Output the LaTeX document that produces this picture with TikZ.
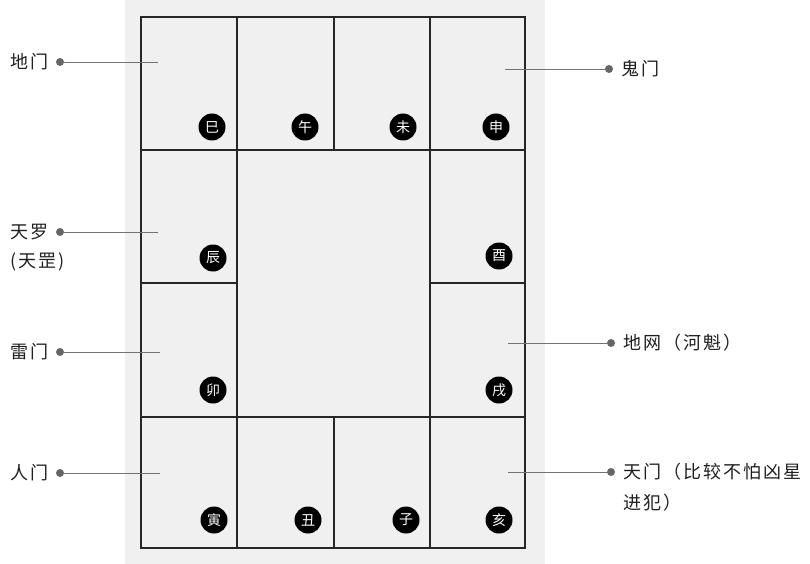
\documentclass[tikz,border=0pt]{standalone}
\usepackage{fontspec}
\setmainfont{Noto Sans CJK SC}
\newfontfamily\cjklabel[LetterSpace=11]{Noto Sans CJK SC}
\begin{document}
\begin{tikzpicture}[x=1pt,y=-1pt,
  gridline/.style={line width=1.6pt, black!85},
  zhi/.style={circle, fill=black, text=white, minimum size=27pt, inner sep=0pt,
    font=\fontsize{14}{14}\selectfont},
  lbl/.style={inner sep=0pt, text=black!88, font=\cjklabel\fontsize{18}{18}\selectfont},
  pin/.style={circle, fill=black!60, minimum size=8pt, inner sep=0pt},
  conn/.style={black!55, line width=0.9pt}]
\useasboundingbox (0,0) rectangle (810,564);
% paper background
\fill[black!6] (125,0) rectangle (545,564);
% grid
\draw[gridline] (141,17) rectangle (525,548);
\draw[gridline] (237,17) -- (237,548);
\draw[gridline] (430,17) -- (430,548);
\draw[gridline] (334,17) -- (334,150);
\draw[gridline] (334,417) -- (334,548);
\draw[gridline] (141,150) -- (525,150);
\draw[gridline] (141,417) -- (525,417);
\draw[gridline] (141,283) -- (237,283);
\draw[gridline] (430,283) -- (525,283);
% earthly branches
\node[zhi] (si)   at (212,127) {巳};
\node[zhi] (wu)   at (305,127) {午};
\node[zhi] (wei)  at (403,127) {未};
\node[zhi] (shen) at (496,127) {申};
\node[zhi] (chen) at (213,258) {辰};
\node[zhi] (you)  at (499,256) {酉};
\node[zhi] (mao)  at (213,390) {卯};
\node[zhi] (xu)   at (499,390) {戌};
\node[zhi] (yin)  at (214,520) {寅};
\node[zhi] (chou) at (308,520) {丑};
\node[zhi] (zi)   at (406,520) {子};
\node[zhi] (hai)  at (499,520) {亥};
% connector ends inside cells
\coordinate (eDimen) at (158,62);
\coordinate (eTianluo) at (158,232);
\coordinate (eLeimen) at (160,352);
\coordinate (eRenmen) at (160,473);
\coordinate (eGuimen) at (505,69);
\coordinate (eDiwang) at (508,343);
\coordinate (eTianmen) at (508,472);
% left labels
\node[lbl, anchor=west] (tDimen) at (10,62) {地门};
\node[pin] (pDimen) at (60,62) {};
\node[lbl, anchor=west] (tTianluo) at (10,232) {天罗};
\node[lbl, anchor=west] (tTiangang) at (10,262) {(天罡)};
\node[pin] (pTianluo) at (60,232) {};
\node[lbl, anchor=west] (tLeimen) at (10,352) {雷门};
\node[pin] (pLeimen) at (60,352) {};
\node[lbl, anchor=west] (tRenmen) at (10,473) {人门};
\node[pin] (pRenmen) at (60,473) {};
% right labels
\node[pin] (pGuimen) at (609,69) {};
\node[lbl, anchor=west] (tGuimen) at (621,69) {鬼门};
\node[pin] (pDiwang) at (611,343) {};
\node[lbl, anchor=west] (tDiwang) at (623,343) {地网（河魁）};
\node[pin] (pTianmen) at (611,472) {};
\node[lbl, anchor=west] (tTianmen) at (623,472) {天门（比较不怕凶星};
\node[lbl, anchor=west] (tTianmen2) at (623,503) {进犯）};
% connectors
\draw[conn] (pDimen) -- (eDimen);
\draw[conn] (pTianluo) -- (eTianluo);
\draw[conn] (pLeimen) -- (eLeimen);
\draw[conn] (pRenmen) -- (eRenmen);
\draw[conn] (pGuimen) -- (eGuimen);
\draw[conn] (pDiwang) -- (eDiwang);
\draw[conn] (pTianmen) -- (eTianmen);
\end{tikzpicture}
\end{document}
